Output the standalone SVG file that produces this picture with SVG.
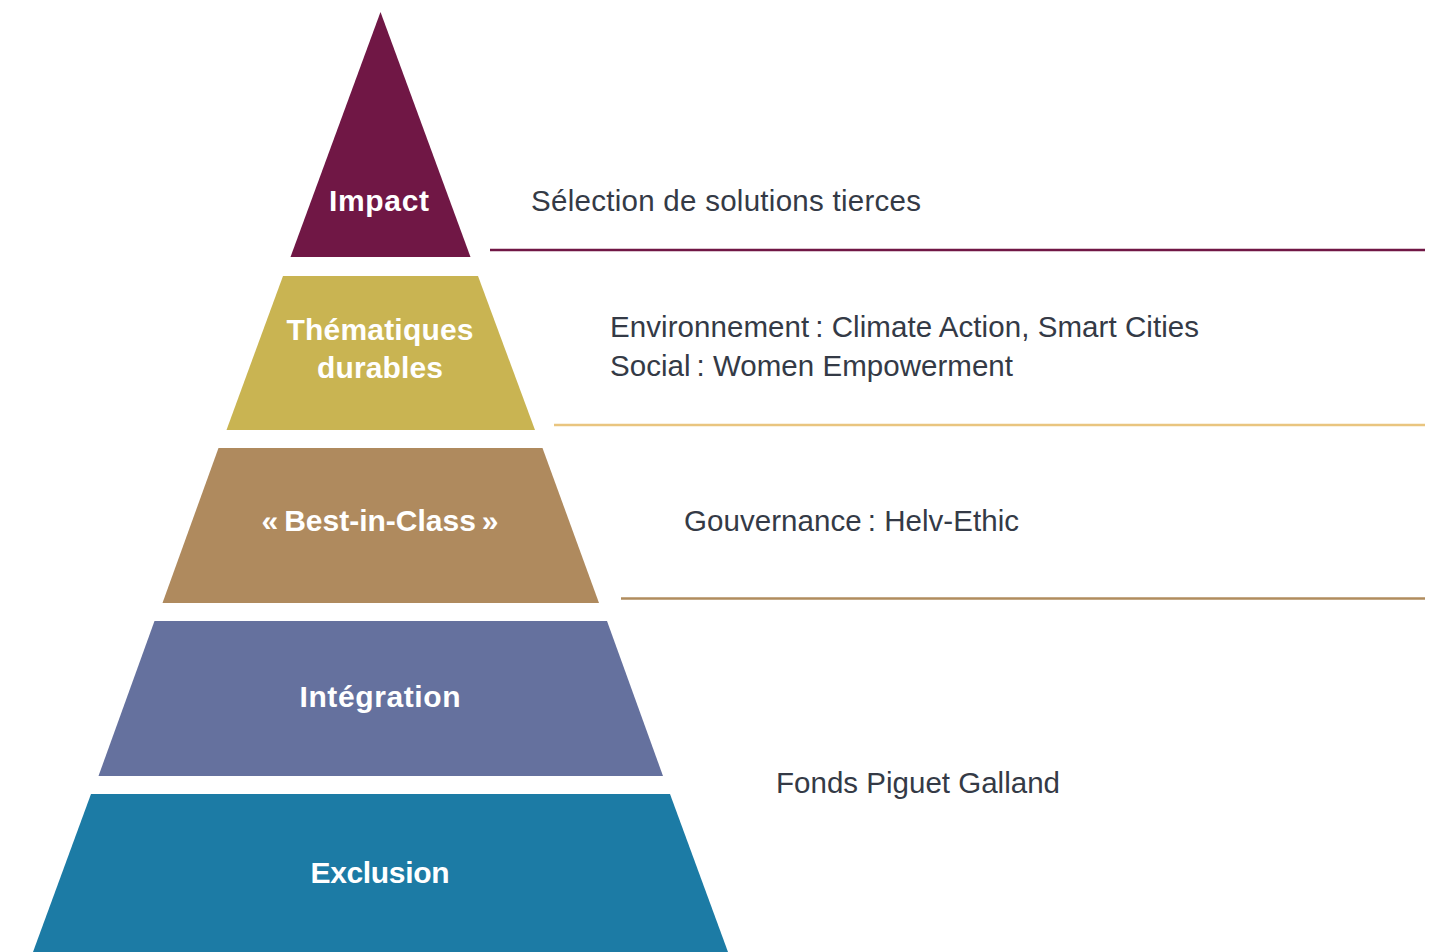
<svg xmlns="http://www.w3.org/2000/svg" width="1433" height="952" viewBox="0 0 1433 952">
<style>
.lbl{font-family:"Liberation Sans",Arial,sans-serif;font-weight:700;font-size:30px;fill:#ffffff;text-anchor:middle}
.desc{font-family:"Liberation Sans",Arial,sans-serif;font-size:29.5px;fill:#343a46}
.sep{stroke-width:2.5;fill:none}
</style>
<rect width="1433" height="952" fill="#ffffff"/>
<g id="impact">
<polygon points="380.5,12 290.5,257 470.5,257" fill="#701745"/>
<text class="lbl" x="379" y="211" textLength="100">Impact</text>
</g>
<g id="thematiques">
<polygon points="283,276 478,276 535,430 226.5,430" fill="#C9B452"/>
<text class="lbl" x="380" y="340" textLength="187">Thématiques</text>
<text class="lbl" x="380" y="378" textLength="126">durables</text>
</g>
<g id="best-in-class">
<polygon points="218.5,448 542.5,448 599,603 162.5,603" fill="#AF8A5E"/>
<text class="lbl" x="380" y="531" textLength="237">«&#8201;Best-in-Class&#8201;»</text>
</g>
<g id="integration">
<polygon points="154.5,621 607,621 663,776 98.5,776" fill="#65719E"/>
<text class="lbl" x="380" y="707" textLength="161">Intégration</text>
</g>
<g id="exclusion">
<polygon points="91,794 670,794 728,952 33,952" fill="#1C7BA5"/>
<text class="lbl" x="380" y="883" textLength="139">Exclusion</text>
</g>
<g id="descriptions">
<text class="desc" x="531" y="211" textLength="390">Sélection de solutions tierces</text>
<text class="desc" x="610" y="337" textLength="589">Environnement&#8201;: Climate Action, Smart Cities</text>
<text class="desc" x="610" y="376" textLength="403">Social&#8201;: Women Empowerment</text>
<text class="desc" x="684" y="531" textLength="335">Gouvernance&#8201;: Helv-Ethic</text>
<text class="desc" x="776" y="793" textLength="284">Fonds Piguet Galland</text>
</g>
<g id="connectors">
<line class="sep" x1="490" y1="250" x2="1425" y2="250" stroke="#701745"/>
<line class="sep" x1="554" y1="425" x2="1425" y2="425" stroke="#E9C57F"/>
<line class="sep" x1="621" y1="598.5" x2="1425" y2="598.5" stroke="#B08C5E"/>
</g>
</svg>
